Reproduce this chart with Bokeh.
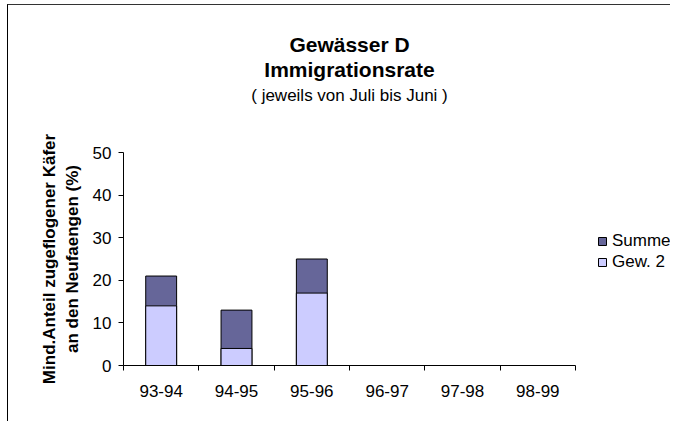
from bokeh.plotting import figure
from bokeh.layouts import column
from bokeh.models import (Range1d, FixedTicker, Label, Legend, LegendItem,
                          ColumnDataSource)
from bokeh.embed import file_html
from bokeh.resources import INLINE

# ---- data ----
years = ["93-94", "94-95", "95-96", "96-97", "97-98", "98-99"]
summe = [21, 13, 25]
gew2 = [14, 4, 17]
y_ticks = [0, 10, 20, 30, 40, 50]
title_lines = ["Gewässer D", "Immigrationsrate"]
subtitle = "( jeweils von Juli bis Juni )"
y_label = "Mind.Anteil zugeflogener Käfer\nan den Neufaengen (%)"

FONT = "Liberation Sans"
DARK = "#666699"
LIGHT = "#CCCCFF"

# ---- layout (pixels) ----
W = 662
TOP_H = 117                 # header area holding the titles
LEFT, TOP, BOTTOM = 115, 30, 56
AXIS_W, AXIS_H = 452, 213   # pixel length of the drawn axes
MAIN_H = TOP + AXIS_H + BOTTOM
FRAME_W = W - LEFT

n = len(years)
x_end = -0.5 + n * FRAME_W / AXIS_W
x_range = Range1d(-0.5, x_end)

# ---- main chart ----
p = figure(width=W, height=MAIN_H, output_backend="svg", toolbar_location=None,
           x_range=x_range, y_range=Range1d(y_ticks[0], y_ticks[-1]),
           min_border_left=LEFT, min_border_right=0,
           min_border_top=TOP, min_border_bottom=BOTTOM)
p.outline_line_color = None
p.grid.visible = False
p.background_fill_color = "white"
p.border_fill_color = "white"

src = ColumnDataSource(dict(x=list(range(len(summe))), summe=summe, gew2=gew2))
r_sum = p.vbar(x="x", top="summe", width=0.41, fill_color=DARK,
               line_color="black", line_width=1, source=src)
r_gew = p.vbar(x="x", top="gew2", width=0.41, fill_color=LIGHT,
               line_color="black", line_width=1, source=src)

# x axis: labels at category centres, tick marks at category borders
xa = p.xaxis[0]
xa.bounds = (-0.5, n - 0.5)
xa.ticker = FixedTicker(ticks=list(range(n)),
                        minor_ticks=[i - 0.5 for i in range(n + 1)])
xa.major_label_overrides = {i: y for i, y in enumerate(years)}
xa.major_tick_out = 0
xa.major_tick_in = 0
xa.minor_tick_out = 5
xa.minor_tick_in = 0
xa.minor_tick_line_color = "black"
xa.axis_line_color = "black"
xa.major_label_text_font = FONT
xa.major_label_text_font_size = "17px"
xa.major_label_text_color = "black"
xa.major_label_standoff = 14

ya = p.yaxis[0]
ya.ticker = FixedTicker(ticks=y_ticks, minor_ticks=[])
ya.major_tick_out = 5
ya.major_tick_in = 0
ya.major_tick_line_color = "black"
ya.axis_line_color = "black"
ya.major_label_text_font = FONT
ya.major_label_text_font_size = "17px"
ya.major_label_text_color = "black"
ya.major_label_standoff = 7
ya.axis_label = y_label
ya.axis_label_text_font = FONT
ya.axis_label_text_font_size = "17px"
ya.axis_label_text_font_style = "bold"
ya.axis_label_text_color = "black"
ya.axis_label_standoff = 8

legend = Legend(items=[LegendItem(label="Summe", renderers=[r_sum]),
                       LegendItem(label="Gew. 2", renderers=[r_gew])],
                location=(474, 93), glyph_width=10, glyph_height=10,
                label_height=18, label_standoff=5, spacing=1, padding=0,
                margin=0, border_line_color=None, background_fill_alpha=0,
                label_text_font=FONT, label_text_font_size="17px",
                label_text_color="black")
p.add_layout(legend)

# ---- header with the titles (shares the chart's x range) ----
head = figure(width=W, height=TOP_H, output_backend="svg", toolbar_location=None,
              x_range=x_range, y_range=Range1d(0, TOP_H),
              x_axis_location=None, y_axis_location=None,
              min_border_left=LEFT, min_border_right=0,
              min_border_top=0, min_border_bottom=0)
head.outline_line_color = None
head.grid.visible = False
head.background_fill_color = "white"
head.border_fill_color = "white"
cx = (n - 1) / 2
for txt, dy, style, size in [(title_lines[0], 39, "bold", "21px"),
                             (title_lines[1], 64, "bold", "21px"),
                             (subtitle, 90, "normal", "17px")]:
    head.add_layout(Label(x=cx, y=TOP_H - dy, text=txt,
                          text_align="center", text_baseline="middle",
                          text_font=FONT, text_font_size=size,
                          text_font_style=style, text_color="black"))

page = column(head, p, spacing=0)
page.styles = {"border-left": "1px solid #000000", "border-top": "1px solid #333333",
               "margin-left": "7px", "margin-top": "4px"}

open("out.html", "w").write(file_html(page, INLINE))
